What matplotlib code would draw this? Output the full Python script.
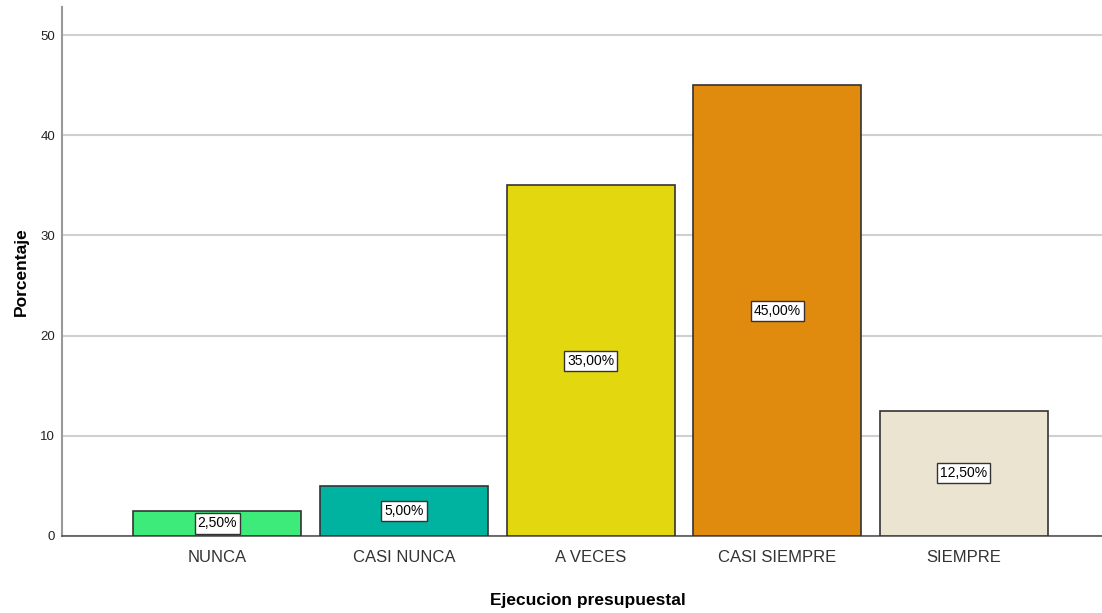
import numpy as np
import matplotlib.pyplot as plt

plt.rcParams['font.family'] = ['Liberation Sans', 'DejaVu Sans']

categorias = ['NUNCA', 'CASI NUNCA', 'A VECES', 'CASI SIEMPRE', 'SIEMPRE']
porcentajes = [2.5, 5.0, 35.0, 45.0, 12.5]
colores = ['#3deb7a', '#00b3a0', '#e3d80f', '#e08a0e', '#ebe4d0']
y_ticks = [0, 10, 20, 30, 40, 50]

fig = plt.figure(figsize=(11.02, 6.13), dpi=100)
ax = fig.add_axes([62 / 1102, 77 / 613, 1 - 62 / 1102 + 0.01, 529 / 613])

x = np.arange(len(categorias))
ax.bar(x, porcentajes, width=0.9, color=colores, edgecolor='#333333',
       linewidth=1.2, zorder=3)

# etiquetas de porcentaje en el centro de cada barra
for xi, v in zip(x, porcentajes):
    ax.text(xi, v / 2, f'{v:.2f}%'.replace('.', ','), ha='center', va='center',
            fontsize=10, zorder=4,
            bbox=dict(boxstyle='square,pad=0.22', fc='white', ec='#333333', lw=1))

ax.set_xlim(-0.833, 4.80)
ax.set_ylim(0, 52.8)
ax.set_yticks(y_ticks)
ax.set_xticks(x)
ax.set_xticklabels(categorias, fontsize=12, color='#333333')
ax.tick_params(axis='y', labelsize=9.5, length=0, pad=5, colors='#222222')
ax.tick_params(axis='x', length=0, pad=10)
ax.grid(axis='y', color='#d0d0d0', linewidth=1.5, zorder=0)

for s in ['top', 'right']:
    ax.spines[s].set_visible(False)
ax.spines['left'].set_color('#999999')
ax.spines['left'].set_linewidth(1.5)
ax.spines['bottom'].set_color('#555555')
ax.spines['bottom'].set_linewidth(1.2)

ax.set_xlabel('Ejecucion presupuestal', fontsize=12.5, fontweight='bold', labelpad=20)
ax.set_ylabel('Porcentaje', fontsize=12.5, fontweight='bold', labelpad=8)

# titulo recortado en el borde superior, como en la referencia
fig.text(550 / 1102, 1 + 2.5 / 613, 'Ejecucion presupuestal', ha='center',
         va='baseline', fontsize=12.5, fontweight='bold')

fig.savefig('out.png', dpi=100)
